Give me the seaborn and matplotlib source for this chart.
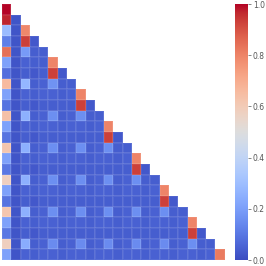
import numpy as np
import pandas as pd
import matplotlib
matplotlib.use("Agg")
import matplotlib.pyplot as plt
import seaborn as sns

sns.set_style("white")

# -----------------------------
# lower-triangle values, row by row (row i has i+1 cells)
# -----------------------------
rows = [
    [1.00],
    [0.97, 0.02],
    [0.29, 0.02, 0.79],
    [0.12, 0.02, 0.93, 0.03],
    [0.84, 0.02, 0.19, 0.04, 0.04],
    [0.21, 0.02, 0.05, 0.04, 0.04, 0.80],
    [0.08, 0.02, 0.04, 0.03, 0.04, 0.93, 0.03],
    [0.66, 0.02, 0.27, 0.04, 0.05, 0.17, 0.04, 0.04],
    [0.21, 0.02, 0.05, 0.04, 0.05, 0.05, 0.04, 0.05, 0.80],
    [0.09, 0.02, 0.04, 0.03, 0.04, 0.04, 0.04, 0.04, 0.93, 0.03],
    [0.64, 0.02, 0.25, 0.04, 0.05, 0.16, 0.04, 0.05, 0.16, 0.04, 0.04],
    [0.21, 0.02, 0.05, 0.04, 0.05, 0.05, 0.04, 0.05, 0.05, 0.04, 0.05, 0.80],
    [0.09, 0.02, 0.04, 0.03, 0.04, 0.04, 0.04, 0.04, 0.04, 0.04, 0.04, 0.93, 0.03],
    [0.62, 0.02, 0.25, 0.04, 0.05, 0.16, 0.04, 0.05, 0.16, 0.04, 0.05, 0.16, 0.04, 0.04],
    [0.21, 0.02, 0.05, 0.04, 0.05, 0.05, 0.04, 0.05, 0.05, 0.04, 0.05, 0.05, 0.04, 0.05, 0.80],
    [0.10, 0.02, 0.04, 0.03, 0.04, 0.04, 0.04, 0.04, 0.04, 0.04, 0.04, 0.04, 0.04, 0.04, 0.93, 0.03],
    [0.58, 0.02, 0.25, 0.04, 0.05, 0.16, 0.04, 0.05, 0.16, 0.04, 0.05, 0.16, 0.04, 0.05, 0.16, 0.04, 0.04],
    [0.21, 0.02, 0.05, 0.04, 0.05, 0.05, 0.04, 0.05, 0.05, 0.04, 0.05, 0.05, 0.04, 0.05, 0.05, 0.04, 0.05, 0.80],
    [0.09, 0.02, 0.04, 0.03, 0.04, 0.04, 0.04, 0.04, 0.04, 0.04, 0.04, 0.04, 0.04, 0.04, 0.04, 0.04, 0.04, 0.93, 0.03],
    [0.62, 0.02, 0.25, 0.04, 0.05, 0.16, 0.04, 0.05, 0.16, 0.04, 0.05, 0.16, 0.04, 0.05, 0.16, 0.04, 0.05, 0.16, 0.04, 0.04],
    [0.21, 0.02, 0.05, 0.04, 0.05, 0.05, 0.04, 0.05, 0.05, 0.04, 0.05, 0.05, 0.04, 0.05, 0.05, 0.04, 0.05, 0.05, 0.04, 0.05, 0.80],
    [0.10, 0.02, 0.04, 0.03, 0.04, 0.04, 0.04, 0.04, 0.04, 0.04, 0.04, 0.04, 0.04, 0.04, 0.04, 0.04, 0.04, 0.04, 0.04, 0.04, 0.93, 0.03],
    [0.58, 0.02, 0.24, 0.04, 0.05, 0.15, 0.04, 0.05, 0.15, 0.04, 0.05, 0.15, 0.04, 0.05, 0.15, 0.04, 0.05, 0.15, 0.04, 0.05, 0.16, 0.04, 0.04],
    [0.21, 0.02, 0.05, 0.04, 0.05, 0.05, 0.04, 0.05, 0.05, 0.04, 0.05, 0.05, 0.04, 0.05, 0.05, 0.04, 0.05, 0.05, 0.04, 0.05, 0.05, 0.04, 0.05, 0.82],
]

cbar_ticks = [0.0, 0.2, 0.4, 0.6, 0.8, 1.0]

n = len(rows)
mat = pd.DataFrame([r + [np.nan] * (n - len(r)) for r in rows])
mask = mat.isnull()

fig = plt.figure(figsize=(2.66, 2.66), dpi=100)
ax = fig.add_axes([2 / 266, 6 / 266, 222.7 / 266, 256 / 266])
cax = fig.add_axes([235 / 266, 6 / 266, 13 / 266, 256 / 266])

sns.heatmap(mat, mask=mask, cmap="coolwarm", vmin=0, vmax=1,
            xticklabels=False, yticklabels=False,
            linewidths=0.25, linecolor=(1, 1, 1, 0.07),
            ax=ax, cbar_ax=cax)

cax.set_yticks(cbar_ticks)
cax.tick_params(labelsize=5.5, length=2.5, width=0.5, colors="#555555", pad=1)

fig.savefig("out.png", dpi=100)
